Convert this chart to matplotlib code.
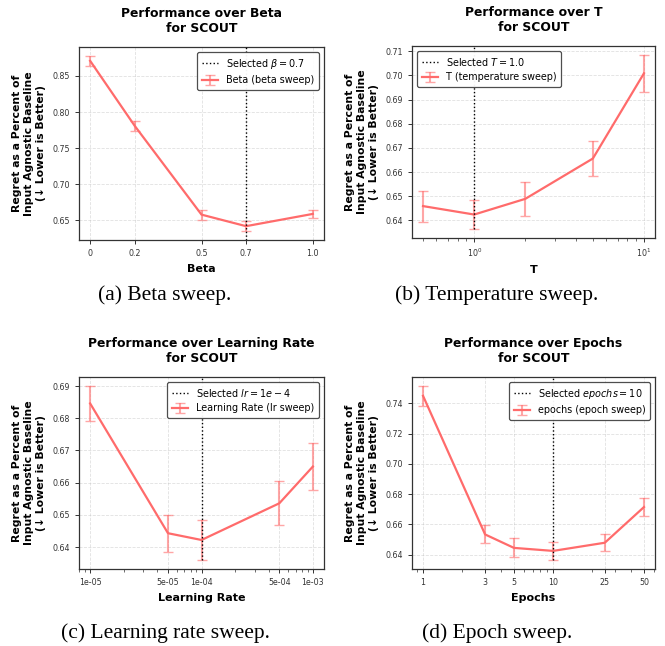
import numpy as np
import matplotlib
matplotlib.use("Agg")
import matplotlib.pyplot as plt
from matplotlib.ticker import FixedLocator, FixedFormatter, MultipleLocator, LogLocator, NullFormatter

# ---- sweep results (mean regret and std error) ----
beta_vals = [0.0, 0.2, 0.5, 0.7, 1.0]
beta_labels = ["0", "0.2", "0.5", "0.7", "1.0"]
beta_mean = [0.871, 0.781, 0.658, 0.642, 0.659]
beta_err = [0.007, 0.007, 0.007, 0.007, 0.006]
beta_sel = 0.7

temp_vals = [0.5, 1.0, 2.0, 5.0, 10.0]
temp_mean = [0.6459, 0.6424, 0.6489, 0.6656, 0.7009]
temp_err = [0.0064, 0.0061, 0.0070, 0.0072, 0.0077]
temp_sel = 1.0

lr_vals = [1e-5, 5e-5, 1e-4, 5e-4, 1e-3]
lr_labels = ["1e-05", "5e-05", "1e-04", "5e-04", "1e-03"]
lr_mean = [0.6846, 0.6443, 0.6422, 0.6536, 0.6650]
lr_err = [0.0055, 0.0057, 0.0063, 0.0069, 0.0072]
lr_sel = 1e-4

ep_vals = [1, 3, 5, 10, 25, 50]
ep_labels = ["1", "3", "5", "10", "25", "50"]
ep_mean = [0.7450, 0.6533, 0.6444, 0.6424, 0.6478, 0.6714]
ep_err = [0.0067, 0.0060, 0.0063, 0.0062, 0.0055, 0.0057]
ep_sel = 10

LINE = "#FF6B6B"
DARK = "#333333"
W, H = 665, 646

fig = plt.figure(figsize=(W / 100, H / 100), dpi=100)


def make_axes(left, right, top, bottom):
    return fig.add_axes([left / W, 1 - bottom / H, (right - left) / W, (bottom - top) / H])


def style(ax):
    for s in ax.spines.values():
        s.set_color(DARK)
        s.set_linewidth(0.9)
    ax.tick_params(axis="both", which="major", labelsize=5.7, colors=DARK, length=3, width=0.7)
    ax.tick_params(axis="both", which="minor", colors=DARK, length=1.8, width=0.5)
    ax.grid(True, which="major", linestyle="--", color="#bbbbbb", alpha=0.45, linewidth=0.6)
    ax.set_axisbelow(True)


def draw(ax, x, mean, err, sel, sel_label, series_label, title, xlabel, full_line):
    ax.errorbar(x, mean, yerr=err, color=LINE, lw=1.6, elinewidth=1.5, capsize=3.6,
                capthick=1.0, ecolor=(1.0, 0.42, 0.42, 0.6), label=series_label, zorder=3)
    ax.set_title(title, fontsize=8.9, fontweight="bold", pad=11, linespacing=1.2)
    ax.set_xlabel(xlabel, fontsize=8, fontweight="bold", labelpad=4)
    ax.set_ylabel("Regret as a Percent of\nInput Agnostic Baseline\n(\u2193 Lower is Better)",
                  fontsize=7.8, fontweight="bold", labelpad=5, linespacing=1.25)
    y0, y1 = ax.get_ylim()
    if full_line:
        frac = 0.0
    else:
        low = min(m - e for m, e in zip(mean, err))
        frac = (low - y0) / (y1 - y0)
    ax.axvline(sel, ymin=frac, ymax=1, color="black", linestyle=":", lw=1.0,
               label=sel_label, zorder=4)
    ax.set_ylim(y0, y1)
    handles, labels = ax.get_legend_handles_labels()
    order = [labels.index(sel_label), labels.index(series_label)]
    leg = ax.legend([handles[i] for i in order], [labels[i] for i in order],
                    fontsize=6.9, framealpha=0.95, edgecolor="#444444", fancybox=True,
                    handlelength=1.7, handletextpad=0.8, borderpad=0.5, labelspacing=0.5)
    leg.get_frame().set_linewidth(0.9)
    return leg


# (a) beta
ax = make_axes(79, 324, 47, 240)
style(ax)
draw(ax, beta_vals, beta_mean, beta_err, beta_sel, r"Selected $\beta = 0.7$",
     "Beta (beta sweep)", "Performance over Beta\nfor SCOUT", "Beta", True)
ax.set_xticks(beta_vals)
ax.set_xticklabels(beta_labels)
ax.yaxis.set_major_locator(MultipleLocator(0.05))
ax.legend_.set_loc("upper right")

# (b) temperature
ax = make_axes(412, 655, 46, 238)
style(ax)
ax.set_xscale("log")
draw(ax, temp_vals, temp_mean, temp_err, temp_sel, r"Selected $T = 1.0$",
     "T (temperature sweep)", "Performance over T\nfor SCOUT", "T", False)
ax.yaxis.set_major_locator(MultipleLocator(0.01))
ax.legend_.set_loc("upper left")

# (c) learning rate
ax = make_axes(79, 324, 377, 569)
style(ax)
ax.set_xscale("log")
draw(ax, lr_vals, lr_mean, lr_err, lr_sel, r"Selected $lr = 1e-4$",
     "Learning Rate (lr sweep)", "Performance over Learning Rate\nfor SCOUT",
     "Learning Rate", False)
ax.xaxis.set_major_locator(FixedLocator(lr_vals))
ax.xaxis.set_major_formatter(FixedFormatter(lr_labels))
ax.xaxis.set_minor_locator(LogLocator(base=10, subs=np.arange(2, 10)))
ax.xaxis.set_minor_formatter(NullFormatter())
ax.yaxis.set_major_locator(MultipleLocator(0.01))
ax.legend_.set_loc("upper right")

# (d) epochs
ax = make_axes(412, 655, 377, 569)
style(ax)
ax.set_xscale("log")
draw(ax, ep_vals, ep_mean, ep_err, ep_sel, r"Selected $epochs = 10$",
     "epochs (epoch sweep)", "Performance over Epochs\nfor SCOUT", "Epochs", False)
ax.xaxis.set_major_locator(FixedLocator(ep_vals))
ax.xaxis.set_major_formatter(FixedFormatter(ep_labels))
ax.xaxis.set_minor_locator(LogLocator(base=10, subs=np.arange(2, 10)))
ax.xaxis.set_minor_formatter(NullFormatter())
ax.yaxis.set_major_locator(MultipleLocator(0.02))
ax.legend_.set_loc("upper right")

# sub-figure captions
cap = dict(fontsize=15.5, family="Liberation Serif", ha="center", va="center")
fig.text(165 / W, 1 - 295 / H, "(a) Beta sweep.", **cap)
fig.text(497 / W, 1 - 295 / H, "(b) Temperature sweep.", **cap)
fig.text(165 / W, 1 - 633 / H, "(c) Learning rate sweep.", **cap)
fig.text(497 / W, 1 - 633 / H, "(d) Epoch sweep.", **cap)

fig.savefig("out.png", dpi=100)
